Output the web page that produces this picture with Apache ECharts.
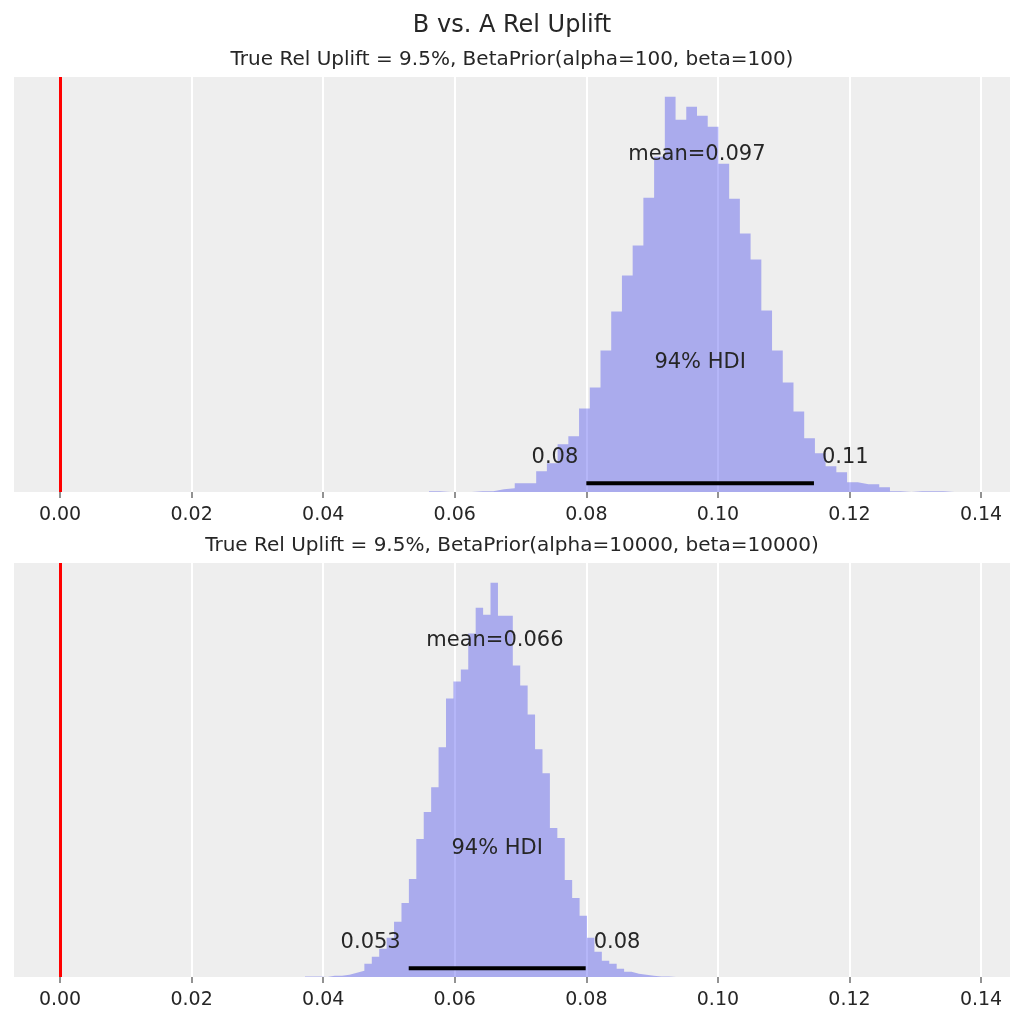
<!DOCTYPE html>
<html>
<head>
<meta charset="utf-8">
<script src="https://cdn.jsdelivr.net/npm/echarts@6/dist/echarts.min.js"></script>
<style>
html,body{margin:0;padding:0;background:#ffffff;}
#chart{width:1024px;height:1024px;}
</style>
</head>
<body>
<div id="chart"></div>
<script>
// ---------- data ----------
const xTicks = [0, 0.02, 0.04, 0.06, 0.08, 0.10, 0.12, 0.14];
const xRange = [-0.0070, 0.1444];
const refValue = 0;

const figTitle = 'B vs. A Rel Uplift';
const panelTitles = [
  'True Rel Uplift = 9.5%, BetaPrior(alpha=100, beta=100)',
  'True Rel Uplift = 9.5%, BetaPrior(alpha=10000, beta=10000)'
];

// top panel histogram (50 bins)
const topBinStart = 0.05608;
const topBinWidth = 0.0016296;
const topHeights = [0.7, 0, 0, 0, 0.7, 0.7, 2.7, 3.7, 8.7, 8.7,
  20.7, 28.7, 47.7, 55.7, 83.7, 104.7, 141.7, 180.7, 216.7, 246.7,
  294.7, 335.7, 395.7, 372.7, 385.7, 376.7, 365.7, 328.7, 293.7, 258.7,
  232.7, 181.7, 141.7, 109.7, 80.7, 53.7, 38.7, 25.7, 19.7, 9.7,
  7.7, 7.7, 4.7, 0.7, 0, 0.7, 0.7, 0.7, 0, 0.7];
const topMean = 0.0968;
const topHdi = [0.0800, 0.1146];
const topTexts = ['mean=0.097', '94% HDI', '0.08', '0.11'];

// bottom panel histogram (50 bins)
const botBinStart = 0.037236;
const botBinWidth = 0.001128;
const botHeights = [0.5, 0.5, 0, 1.3, 1.3, 2.3, 4.3, 6.3, 13.3, 20.3,
  28.3, 39.3, 55.3, 74.3, 98.3, 138.3, 165.3, 190.3, 230.3, 279.3,
  296.3, 308.3, 344.3, 370.3, 363.3, 395.3, 362.3, 362.3, 312.3, 292.3,
  263.3, 228.3, 204.3, 149.3, 139.3, 97.3, 79.3, 61.3, 39.3, 25.3,
  16.3, 13.3, 8.3, 5.3, 3.3, 2.3, 1.3, 0.5, 0.5, 0.5];
const botMean = 0.0661;
const botHdi = [0.0530, 0.0799];
const botTexts = ['mean=0.066', '94% HDI', '0.053', '0.08'];

// ---------- layout / style ----------
const FONT = 'DejaVu Sans';
const TEXT_COLOR = '#262626';
const gridBoxes = [
  {left: 14, top: 77, width: 996, height: 415},
  {left: 14, top: 563, width: 996, height: 414}
];
const frac = {mean: 0.813, hdiText: 0.311, bounds: 0.083, hdiLine: 0.021};

const panels = [
  {start: topBinStart, width: topBinWidth, heights: topHeights, mean: topMean, hdi: topHdi, texts: topTexts},
  {start: botBinStart, width: botBinWidth, heights: botHeights, mean: botMean, hdi: botHdi, texts: botTexts}
];

const grids = [], xAxes = [], yAxes = [], series = [];

panels.forEach((p, k) => {
  const yMax = Math.max(...p.heights) * 1.05;
  grids.push(Object.assign({show: true, backgroundColor: '#eeeeee', borderWidth: 0}, gridBoxes[k]));
  xAxes.push({
    type: 'value', gridIndex: k, min: xRange[0], max: xRange[1],
    axisLine: {show: false},
    axisTick: {show: true, customValues: xTicks, length: 6, lineStyle: {color: '#777777', width: 1.6}},
    axisLabel: {customValues: xTicks, formatter: v => v.toFixed(2), fontSize: 19, color: TEXT_COLOR, fontFamily: FONT, margin: 14},
    splitLine: {show: true, lineStyle: {color: '#ffffff', width: 2}}
  });
  yAxes.push({
    type: 'value', gridIndex: k, min: 0, max: yMax, show: false,
    splitLine: {show: false}
  });

  const pts = p.heights.map((h, i) => [p.start + i * p.width, h]);
  pts.push([p.start + p.heights.length * p.width, p.heights[p.heights.length - 1]]);

  series.push({
    type: 'line', xAxisIndex: k, yAxisIndex: k, data: pts, step: 'end',
    symbol: 'none', silent: true,
    lineStyle: {width: 0, opacity: 0},
    areaStyle: {color: '#2a2eec', opacity: 0.35},
    markLine: {
      silent: true, symbol: ['none', 'none'], label: {show: false},
      lineStyle: {color: '#ff0000', width: 3, type: 'solid'},
      data: [{xAxis: refValue}]
    },
    z: 2
  });

  series.push({
    type: 'line', xAxisIndex: k, yAxisIndex: k, symbol: 'none', silent: true,
    data: [[p.hdi[0], frac.hdiLine * yMax], [p.hdi[1], frac.hdiLine * yMax]],
    lineStyle: {color: '#000000', width: 4},
    z: 3
  });

  const lbl = (pos) => ({show: true, position: pos, distance: 8, fontSize: 21, color: TEXT_COLOR, fontFamily: FONT, opacity: 1});
  series.push({
    type: 'scatter', xAxisIndex: k, yAxisIndex: k, silent: true,
    symbolSize: 0.01, itemStyle: {color: 'rgba(0,0,0,0)', opacity: 1},
    data: [
      {value: [p.mean, frac.mean * yMax], label: Object.assign(lbl('inside'), {formatter: p.texts[0]})},
      {value: [(p.hdi[0] + p.hdi[1]) / 2, frac.hdiText * yMax], label: Object.assign(lbl('inside'), {formatter: p.texts[1]})},
      {value: [p.hdi[0], frac.bounds * yMax], label: Object.assign(lbl('left'), {formatter: p.texts[2]})},
      {value: [p.hdi[1], frac.bounds * yMax], label: Object.assign(lbl('right'), {formatter: p.texts[3]})}
    ],
    z: 4
  });
});

const chart = echarts.init(document.getElementById('chart'), null, {renderer: 'canvas'});
chart.setOption({
  animation: false,
  backgroundColor: '#ffffff',
  title: [
    {text: figTitle, left: 'center', top: 14, padding: 0, textStyle: {fontSize: 24, fontWeight: 'normal', color: TEXT_COLOR, fontFamily: FONT}},
    {text: panelTitles[0], left: 'center', top: 49.5, padding: 0, textStyle: {fontSize: 20, fontWeight: 'normal', color: TEXT_COLOR, fontFamily: FONT}},
    {text: panelTitles[1], left: 'center', top: 535.5, padding: 0, textStyle: {fontSize: 20, fontWeight: 'normal', color: TEXT_COLOR, fontFamily: FONT}}
  ],
  grid: grids,
  xAxis: xAxes,
  yAxis: yAxes,
  series: series
});
</script>
</body>
</html>
